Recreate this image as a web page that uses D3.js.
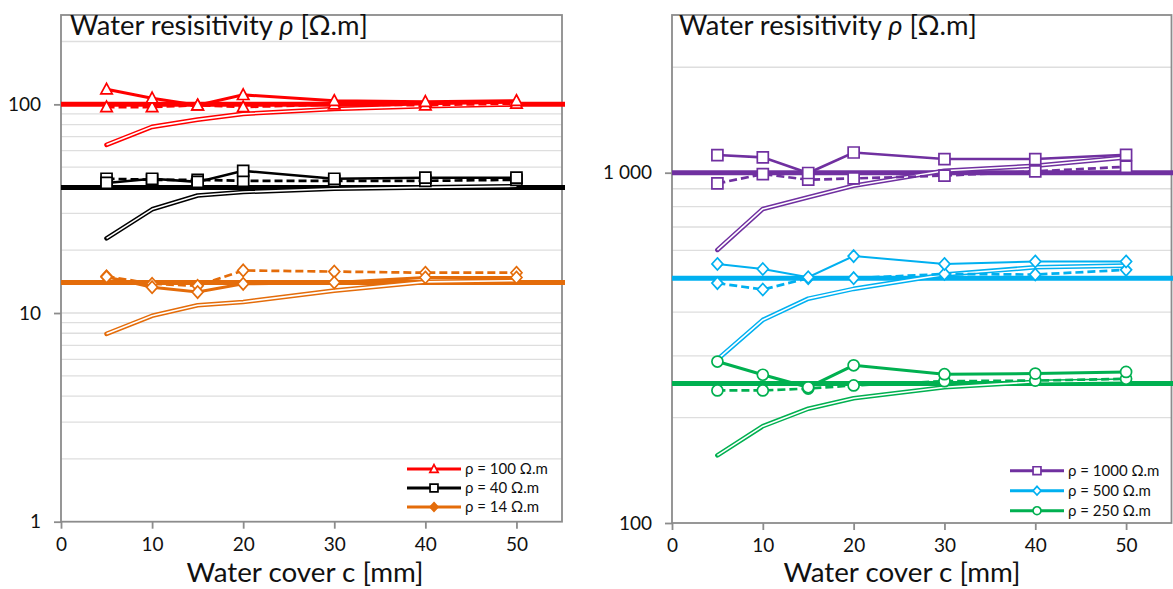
<!DOCTYPE html>
<html><head><meta charset="utf-8">
<script src="https://cdn.jsdelivr.net/npm/d3@7"></script>
<style>
html,body{margin:0;padding:0;background:#fff;}
svg{display:block;font-family:Lato,"Open Sans",sans-serif;}
</style></head>
<body>
<svg id="chart" width="1173" height="589"></svg>
<script>
// ---------- DATA ----------
const cover = [5, 10, 15, 20, 30, 40, 50];
const xTicks = [0, 10, 20, 30, 40, 50];

// Left panel
const leftYTicks = [1, 10, 100];
const leftYLabels = ["1", "10", "100"];
const leftRefs = [100, 40, 14];
const leftLegend = ["ρ = 100 Ω.m", "ρ = 40 Ω.m", "ρ = 14 Ω.m"];
const r100Solid  = [118, 107, 99, 111, 104, 103, 104];
const r100Dashed = [97, 97, 99, 97, 100, 99, 101];
const r100Double = [64, 78, 84.5, 90, 95, 98, 100];
const r40Solid   = [42, 44, 42.5, 48, 44, 44.5, 44.5];
const r40Dashed  = [44, 43.5, 43.5, 43, 43, 43, 43.5];
const r40Double  = [22.8, 31.4, 36.6, 38, 39.4, 40, 40.5];
const r14Solid   = [14.9, 13.3, 12.6, 13.8, 14.0, 14.8, 14.8];
const r14Dashed  = [15.0, 13.8, 13.5, 16.0, 15.8, 15.6, 15.6];
const r14Double  = [7.95, 9.7, 10.9, 11.3, 12.8, 14.1, 14.3];

// Right panel
const rightYTicks = [100, 1000];
const rightYLabels = ["100", "1 000"];
const rightRefs = [1000, 500, 250];
const rightLegend = ["ρ = 1000 Ω.m", "ρ = 500 Ω.m", "ρ = 250 Ω.m"];
const r1000Solid  = [1123, 1106, 998, 1142, 1094, 1094, 1125];
const r1000Dashed = [932, 991, 955, 963, 981, 1009, 1040];
const r1000Double = [602, 788, 851, 918, 1013, 1047, 1106];
const r500Solid   = [549, 531, 503, 578, 549, 558, 558];
const r500Dashed  = [484, 464, 500, 500, 514, 512, 528];
const r500Double  = [293, 380, 437, 466, 512, 537, 543];
const r250Solid   = [289, 265, 244, 282, 266, 267, 270];
const r250Dashed  = [239, 239, 242, 247, 254, 255, 258];
const r250Double  = [156, 189, 212, 227, 244, 253, 255];

const titleText = "Water resisitivity ";
const xTitle = "Water cover c [mm]";

// ---------- DRAW ----------
const svg = d3.select("#chart");

function fitFont(sel, target) {
  const w = sel.node().getComputedTextLength();
  const fs = parseFloat(sel.attr("font-size"));
  sel.attr("font-size", (fs * target / w).toFixed(2));
}

function panel(cfg) {
  const g = svg.append("g");
  const x = d3.scaleLinear().domain([0, 55]).range([cfg.left, cfg.right]);
  const y = d3.scaleLog().domain(cfg.yDomain).range([cfg.bottom, cfg.top]);

  // minor/major gridlines
  const grid = [];
  let d0 = cfg.yDomain[0];
  while (d0 < cfg.yDomain[1]) {
    for (let k = 1; k <= 9; k++) { const v = d0 * k; if (v > cfg.yDomain[0] && v < cfg.yDomain[1]) grid.push(v); }
    d0 *= 10;
  }
  g.append("g").selectAll("line").data(grid).join("line")
    .attr("x1", cfg.left).attr("x2", cfg.right)
    .attr("y1", d => y(d)).attr("y2", d => y(d))
    .attr("stroke", "#dedede").attr("stroke-width", 1.3);

  // border
  g.append("rect").attr("x", cfg.left).attr("y", cfg.top)
    .attr("width", cfg.right - cfg.left).attr("height", cfg.bottom - cfg.top)
    .attr("fill", "none").attr("stroke", "#8c8c8c").attr("stroke-width", 1.8);

  // axes
  const ya = g.append("g").attr("transform", `translate(${cfg.left},0)`)
    .call(d3.axisLeft(y).tickValues(cfg.yTicks).tickFormat((d, i) => cfg.yLabels[i]).tickSize(7).tickPadding(13));
  const xa = g.append("g").attr("transform", `translate(0,${cfg.bottom})`)
    .call(d3.axisBottom(x).tickValues(xTicks).tickSize(7).tickPadding(9));
  [ya, xa].forEach(a => {
    a.select(".domain").remove();
    a.selectAll("line").attr("stroke", "#8c8c8c").attr("stroke-width", 1.8);
    a.selectAll("text").attr("font-size", 19).attr("fill", "#111").attr("font-family", "Lato");
  });

  const line = d3.line().x((d, i) => x(cover[i])).y(d => y(d));

  // reference thick lines
  cfg.groups.forEach(gr => {
    g.append("line").attr("x1", cfg.left).attr("x2", cfg.right + 3)
      .attr("y1", y(gr.ref)).attr("y2", y(gr.ref))
      .attr("stroke", gr.color).attr("stroke-width", 5);
  });

  cfg.groups.forEach(gr => {
    // double line
    g.append("path").datum(gr.dbl).attr("d", line).attr("fill", "none")
      .attr("stroke", gr.color).attr("stroke-width", 4.6).attr("stroke-linecap", "round").attr("stroke-linejoin", "round");
    g.append("path").datum(gr.dbl).attr("d", line).attr("fill", "none")
      .attr("stroke", "#fff").attr("stroke-width", 1.6).attr("stroke-linejoin", "round");
    // dashed
    g.append("path").datum(gr.dashed).attr("d", line).attr("fill", "none")
      .attr("stroke", gr.color).attr("stroke-width", 2.7).attr("stroke-dasharray", "8,4");
    marker(g, gr, gr.dashed.map((v, i) => [x(cover[i]), y(v)]), 1);
    // solid
    g.append("path").datum(gr.solid).attr("d", line).attr("fill", "none")
      .attr("stroke", gr.color).attr("stroke-width", gr.sw);
    marker(g, gr, gr.solid.map((v, i) => [x(cover[i]), y(v)]), 1);
  });

  // title
  const t = g.append("text").attr("x", cfg.left + cfg.titleDx).attr("y", 35)
    .attr("font-size", 26).attr("fill", "#111").attr("font-family", "Lato");
  t.append("tspan").text(titleText);
  t.append("tspan").attr("font-style", "italic").text("ρ");
  t.append("tspan").text(" [Ω.m]");
  fitFont(t, 298);

  // x title
  const xt = g.append("text").attr("x", cfg.xTitleX).attr("y", 582).attr("text-anchor", "middle")
    .attr("font-size", 26).attr("fill", "#111").attr("font-family", "Lato").text(xTitle);
  fitFont(xt, 237);

  // legend
  cfg.groups.forEach((gr, i) => {
    const ly = cfg.legY + i * cfg.legStep;
    g.append("line").attr("x1", cfg.legX).attr("x2", cfg.legX + 54)
      .attr("y1", ly).attr("y2", ly).attr("stroke", gr.color).attr("stroke-width", 3);
    marker(g, gr, [[cfg.legX + 27, ly]], 0.72, true);
    g.append("text").attr("x", cfg.legX + 58).attr("y", ly + 5)
      .attr("font-size", 15).attr("fill", "#111").attr("font-family", "Lato").text(cfg.legend[i]);
  });
}

function marker(g, gr, pts, s, legend) {
  const sz = 11 * s;
  const sel = g.append("g").selectAll("path").data(pts).join("path")
    .attr("transform", d => `translate(${d[0]},${d[1]})`)
    .attr("fill", legend && gr.legendFill ? gr.color : "#fff")
    .attr("stroke", gr.color).attr("stroke-width", 1.7);
  let p;
  if (gr.shape === "triangle") p = `M0,${-sz*0.55}L${sz*0.52},${sz*0.42}L${-sz*0.52},${sz*0.42}Z`;
  else if (gr.shape === "square") p = `M${-sz/2},${-sz/2}h${sz}v${sz}h${-sz}Z`;
  else if (gr.shape === "diamond") p = `M0,${-sz*0.55}L${sz*0.5},0L0,${sz*0.55}L${-sz*0.5},0Z`;
  else p = d3.symbol(d3.symbolCircle, Math.PI * Math.pow(sz * 0.5, 2))();
  sel.attr("d", p);
}

panel({
  left: 61, right: 562, top: 15, bottom: 521.7,
  yDomain: [1, 268], yTicks: leftYTicks, yLabels: leftYLabels,
  titleDx: 9, xTitleX: 305, legX: 407, legY: 469, legStep: 19, legend: leftLegend,
  groups: [
    { ref: leftRefs[0], color: "#ff0000", shape: "triangle", solid: r100Solid, dashed: r100Dashed, dbl: r100Double, sw: 3 },
    { ref: leftRefs[1], color: "#000000", shape: "square", solid: r40Solid, dashed: r40Dashed, dbl: r40Double, sw: 2.6 },
    { ref: leftRefs[2], color: "#e46c0a", shape: "diamond", solid: r14Solid, dashed: r14Dashed, dbl: r14Double, sw: 3, legendFill: true }
  ]
});
panel({
  left: 672, right: 1171.5, top: 15, bottom: 523,
  yDomain: [100, 2820], yTicks: rightYTicks, yLabels: rightYLabels,
  titleDx: 7, xTitleX: 902, legX: 1010, legY: 470.7, legStep: 20, legend: rightLegend,
  groups: [
    { ref: rightRefs[0], color: "#7030a0", shape: "square", solid: r1000Solid, dashed: r1000Dashed, dbl: r1000Double, sw: 2.6 },
    { ref: rightRefs[1], color: "#00b0f0", shape: "diamond", solid: r500Solid, dashed: r500Dashed, dbl: r500Double, sw: 2 },
    { ref: rightRefs[2], color: "#00b050", shape: "circle", solid: r250Solid, dashed: r250Dashed, dbl: r250Double, sw: 3 }
  ]
});
</script>
</body></html>
